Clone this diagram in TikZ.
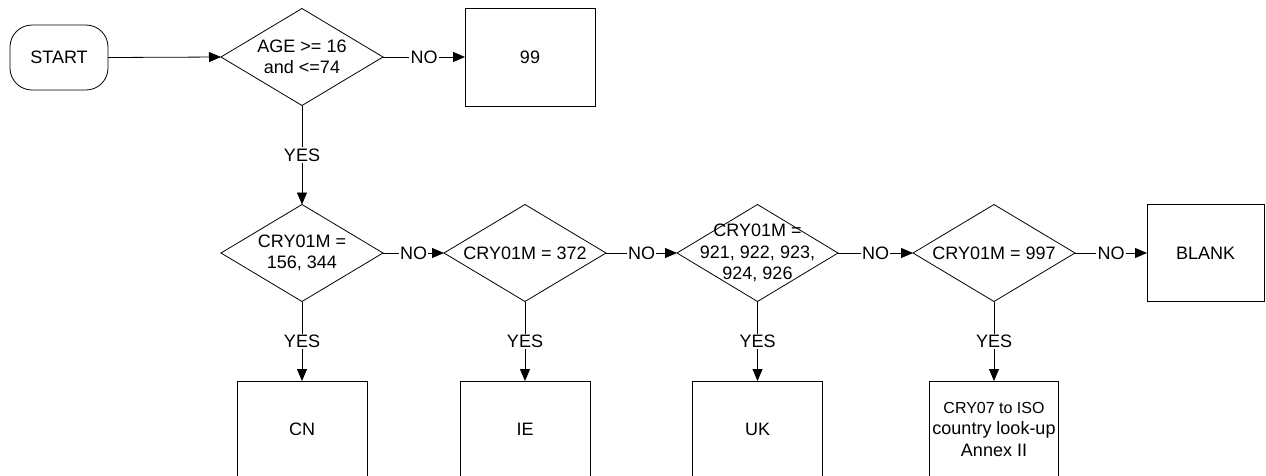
\documentclass[tikz,border=0pt]{standalone}
\usepackage{fontspec}
\setmainfont{Liberation Sans}
\usetikzlibrary{shapes.geometric,arrows.meta}
\begin{document}
\begin{tikzpicture}[x=1pt,y=-1pt,
  every node/.style={font=\fontsize{18}{21.5}\selectfont},
  base/.style={draw=black,line width=0.8pt,inner sep=0pt,outer sep=0pt},
  dec/.style={base,diamond,minimum width=162pt,minimum height=97pt},
  box/.style={base,rectangle,minimum width=130pt,minimum height=98pt,align=center},
  term/.style={base,rectangle,rounded corners=22pt,minimum width=98pt,minimum height=65pt},
  conn/.style={line width=0.8pt,-{Triangle[length=12pt,width=10pt]}},
  lbl/.style={fill=white,inner sep=1.2pt},
  dtext/.style={align=center}
]
\useasboundingbox (0,0) rectangle (1266,475);

% row 1
\node[term] (start) at (59,57.5) {START};
\node[dec,label={[dtext]center:AGE >= 16\\and <=74}] (d1) at (302,57) {};
\node[box] (n99) at (530,57) {99};

% row 2
\node[dec,label={[dtext]center:CRY01M =\\156, 344}] (dA) at (302,253) {};
\node[dec,label={[dtext]center:CRY01M = 372}] (dB) at (525,253) {};
\node[dec,minimum width=161pt,label={[dtext]center:CRY01M =\\921, 922, 923,\\924, 926}] (dC) at (757.5,253) {};
\node[dec,label={[dtext]center:CRY01M = 997}] (dD) at (994,253) {};
\node[box,minimum width=117pt,minimum height=97pt] (blank) at (1205.5,253) {BLANK};

% row 3
\node[box,minimum height=96pt] (cn) at (302,429) {CN};
\node[box,minimum height=96pt] (ie) at (525,429) {IE};
\node[box,minimum height=96pt] (uk) at (757.5,429) {UK};
\node[box,minimum width=129pt,minimum height=96pt] (iso) at (994,429)
  {\fontsize{16}{20}\selectfont CRY07 to ISO\\country look-up\\\fontsize{18}{20}\selectfont Annex II};

% connectors
\draw[conn] (start.east) -- (d1.west);
\draw[conn] (d1.east) -- node[lbl]{NO} (n99.west);
\draw[conn] (d1.south) -- node[lbl]{YES} (dA.north);
\draw[conn] (dA.east) -- node[lbl]{NO} (dB.west);
\draw[conn] (dB.east) -- node[lbl]{NO} (dC.west);
\draw[conn] (dC.east) -- node[lbl]{NO} (dD.west);
\draw[conn] (dD.east) -- node[lbl]{NO} (blank.west);
\draw[conn] (dA.south) -- node[lbl]{YES} (cn.north);
\draw[conn] (dB.south) -- node[lbl]{YES} (ie.north);
\draw[conn] (dC.south) -- node[lbl]{YES} (uk.north);
\draw[conn] (dD.south) -- node[lbl]{YES} (iso.north);
\end{tikzpicture}
\end{document}
